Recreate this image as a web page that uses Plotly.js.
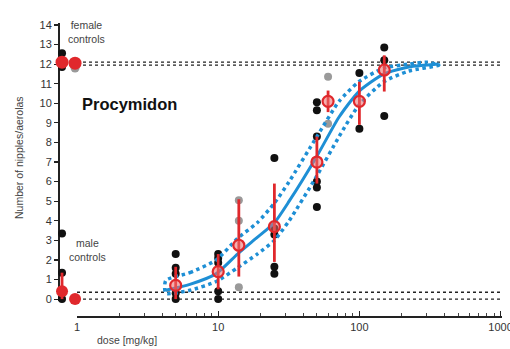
<!DOCTYPE html>
<html>
<head>
<meta charset="utf-8">
<script src="https://cdn.plot.ly/plotly-3.0.1.min.js"></script>
<style>html,body{margin:0;padding:0;background:#fff;overflow:hidden;}#chart{width:510px;height:349px;}</style>
</head>
<body>
<div id="chart"></div>
<script>
// ---- data ----
const doses      = [5, 10, 14, 25, 50, 60, 100, 150];
const meanVals   = [0.7, 1.4, 2.75, 3.7, 7.0, 10.1, 10.1, 11.7];
const errUp      = [0.95, 0.9, 2.35, 2.2, 1.3, 0.55, 1.0, 0.75];
const errDown    = [0.7, 0.9, 1.6, 1.8, 1.1, 0.55, 1.2, 1.1];

const blackDose  = [5,5,5,5,5, 10,10,10,10,10, 25,25,25,25,25, 50,50,50,50,50,50, 100,100, 150,150,150];
const blackVals  = [2.3,1.6,1.3,0.3,0.0, 2.3,2.1,1.85,0.4,0.0, 7.2,3.6,3.3,1.65,1.3, 10.05,9.65,8.3,6.0,5.7,4.7, 11.55,8.7, 12.85,12.2,9.35];
const grayDose   = [14,14,14, 60,60];
const grayVals   = [5.05,4.0,0.6, 11.35,8.95];

const ctrlCats        = ['A','B'];
const femBlackCat     = ['A','A','A'];
const femBlackVals    = [12.55, 12.0, 11.85];
const femGrayCat      = ['B'];
const femGrayVals     = [11.8];
const femMean         = [12.1, 12.05];
const maleBlackCat    = ['A','A','A'];
const maleBlackVals   = [3.35, 1.35, 0.0];
const maleMean        = [0.4, 0.0];
const maleErrUp       = [0.95, 0];
const maleErrDown     = [0.4, 0];

const refDose    = [1, 1000];
const femRef1    = [12.1, 12.1];
const femRef2    = [11.95, 11.95];
const maleRef1   = [0.35, 0.35];
const maleRef2   = [0.0, 0.0];

const fitDose    = [4.25, 6.3, 9.7, 13.7, 18.9, 25, 31.8, 50, 71.8, 99, 149, 224, 365];
const fitVals    = [0.45, 0.75, 1.3, 2.3, 3.15, 3.9, 5.0, 7.3, 9.3, 10.6, 11.5, 11.85, 12.0];
const upDose     = [4.25, 6.3, 9.7, 13.7, 18.9, 25, 31.8, 50, 71.8, 99, 149, 224, 300];
const upVals     = [0.95, 1.35, 2.0, 3.1, 3.9, 4.9, 6.0, 8.3, 10.1, 11.1, 11.8, 12.0, 12.1];
const loDose     = [4.25, 6.3, 9.7, 13.7, 18.9, 25, 31.8, 50, 71.8, 99, 149, 224, 365];
const loVals     = [0.3, 0.45, 0.9, 1.6, 2.3, 3.0, 4.0, 6.3, 8.3, 9.9, 11.1, 11.65, 11.95];

// ---- styles ----
const BLUE = '#1e8fd5', RED = '#e0282c', BLACK = '#111111', GRAY = '#9a9a9a';
const FONT = 'Liberation Sans, Arial, Helvetica, sans-serif';

// band as a closed loop: upper left->right, lower right->left
const bandX = upDose.concat(loDose.slice().reverse(), [upDose[0]]);
const bandY = upVals.concat(loVals.slice().reverse(), [upVals[0]]);

const refLine = (y) => ({x: refDose, y: y, type:'scatter', mode:'lines', xaxis:'x', yaxis:'y',
  line:{color:'#222', width:1.3, dash:'dot'}, hoverinfo:'skip', cliponaxis:false});

const traces = [
  refLine(femRef1), refLine(femRef2), refLine(maleRef1), refLine(maleRef2),
  {x: blackDose, y: blackVals, type:'scatter', mode:'markers', xaxis:'x', yaxis:'y',
   marker:{color:BLACK, size:8}, cliponaxis:false},
  {x: grayDose, y: grayVals, type:'scatter', mode:'markers', xaxis:'x', yaxis:'y',
   marker:{color:GRAY, size:8}, cliponaxis:false},
  {x: bandX, y: bandY, type:'scatter', mode:'lines', xaxis:'x', yaxis:'y',
   line:{color:BLUE, width:3.5, dash:'dot', shape:'spline', smoothing:0.6}, cliponaxis:false},
  {x: fitDose, y: fitVals, type:'scatter', mode:'lines', xaxis:'x', yaxis:'y',
   line:{color:BLUE, width:3, shape:'spline', smoothing:0.6}, cliponaxis:false},
  {x: doses, y: meanVals, type:'scatter', mode:'markers', xaxis:'x', yaxis:'y',
   error_y:{type:'data', symmetric:false, array:errUp, arrayminus:errDown, color:RED, thickness:2.8, width:0},
   marker:{color:'rgba(236,110,110,0.55)', size:11, line:{color:RED, width:2.2}}, cliponaxis:false},
  // controls
  {x: femBlackCat, y: femBlackVals, type:'scatter', mode:'markers', xaxis:'x2', yaxis:'y',
   marker:{color:BLACK, size:8}, cliponaxis:false},
  {x: femGrayCat, y: femGrayVals, type:'scatter', mode:'markers', xaxis:'x2', yaxis:'y',
   marker:{color:GRAY, size:9}, cliponaxis:false},
  {x: ctrlCats, y: femMean, type:'scatter', mode:'markers', xaxis:'x2', yaxis:'y',
   marker:{color:RED, size:13}, cliponaxis:false},
  {x: maleBlackCat, y: maleBlackVals, type:'scatter', mode:'markers', xaxis:'x2', yaxis:'y',
   marker:{color:BLACK, size:8}, cliponaxis:false},
  {x: ctrlCats, y: maleMean, type:'scatter', mode:'markers', xaxis:'x2', yaxis:'y',
   error_y:{type:'data', symmetric:false, array:maleErrUp, arrayminus:maleErrDown, color:RED, thickness:2.8, width:0},
   marker:{color:RED, size:12}, cliponaxis:false}
];

const minorVals = [];
[1,10,100].forEach(d => { [2,3,4,5,6,7,8,9].forEach(k => minorVals.push(d*k)); });

const W = 510, H = 349, L = 58, R = 8, T = 23, B = 33;
const pw = W - L - R, ph = H - T - B;
const px = (x) => (x - L) / pw;
const py = (y) => (H - B - y) / ph;
const xSplit = px(77);

const layout = {
  width: W, height: H,
  margin: {l: L, r: R, t: T, b: B, pad: 0},
  paper_bgcolor: '#fff', plot_bgcolor: '#fff',
  showlegend: false,
  font: {family: FONT, size: 11, color: '#333'},
  xaxis: {
    type: 'log', domain: [xSplit, 1], range: [0, 3.01], anchor: 'free', position: 0,
    showline: true, linecolor: '#222', linewidth: 1.5, showgrid: false, zeroline: false,
    ticks: 'inside', ticklen: 5, tickwidth: 1.2, tickcolor: '#222',
    tickvals: [1, 10, 100, 1000], ticktext: ['1', '10', '100', '1000'],
    ticklabeloverflow: 'allow', automargin: false,
    tickfont: {family: FONT, size: 11, color: '#333'},
    minor: {ticks: 'inside', ticklen: 3, tickwidth: 1, tickcolor: '#444', tickvals: minorVals, showgrid: false}
  },
  xaxis2: {
    type: 'category', domain: [0, xSplit], range: [-0.31, 1.15], anchor: 'y',
    visible: false, showgrid: false, zeroline: false, categoryorder: 'array', categoryarray: ctrlCats
  },
  yaxis: {
    domain: [0.051, 1], range: [-0.1, 14.1], anchor: 'free', position: 0,
    showline: true, linecolor: '#222', linewidth: 1.5, showgrid: false, zeroline: false,
    ticks: 'outside', ticklen: 4, tickwidth: 1.2, tickcolor: '#222',
    tick0: 0, dtick: 1, tickfont: {family: FONT, size: 11, color: '#333'}
  },
  annotations: [
    {text: 'female<br>controls', xref: 'paper', yref: 'paper', x: px(86), y: py(32),
     xanchor: 'center', yanchor: 'middle', showarrow: false, align: 'center',
     font: {family: FONT, size: 10.5, color: '#444'}},
    {text: 'male<br>controls', xref: 'paper', yref: 'paper', x: px(87), y: py(250),
     xanchor: 'center', yanchor: 'middle', showarrow: false, align: 'center',
     font: {family: FONT, size: 10.5, color: '#444'}},
    {text: '<b>Procymidon</b>', xref: 'paper', yref: 'paper', x: px(80), y: py(104),
     xanchor: 'left', yanchor: 'middle', showarrow: false,
     font: {family: FONT, size: 16.5, color: '#111'}},
    {text: 'Number of nipples/aerolas', xref: 'paper', yref: 'paper', x: px(19), y: py(158),
     xanchor: 'center', yanchor: 'middle', showarrow: false, textangle: -90,
     font: {family: FONT, size: 10.5, color: '#444'}},
    {text: 'dose [mg/kg]', xref: 'paper', yref: 'paper', x: px(127), y: py(340),
     xanchor: 'center', yanchor: 'middle', showarrow: false,
     font: {family: FONT, size: 10.5, color: '#444'}}
  ]
};

Plotly.newPlot('chart', traces, layout, {staticPlot: true, displayModeBar: false});
</script>
</body>
</html>
